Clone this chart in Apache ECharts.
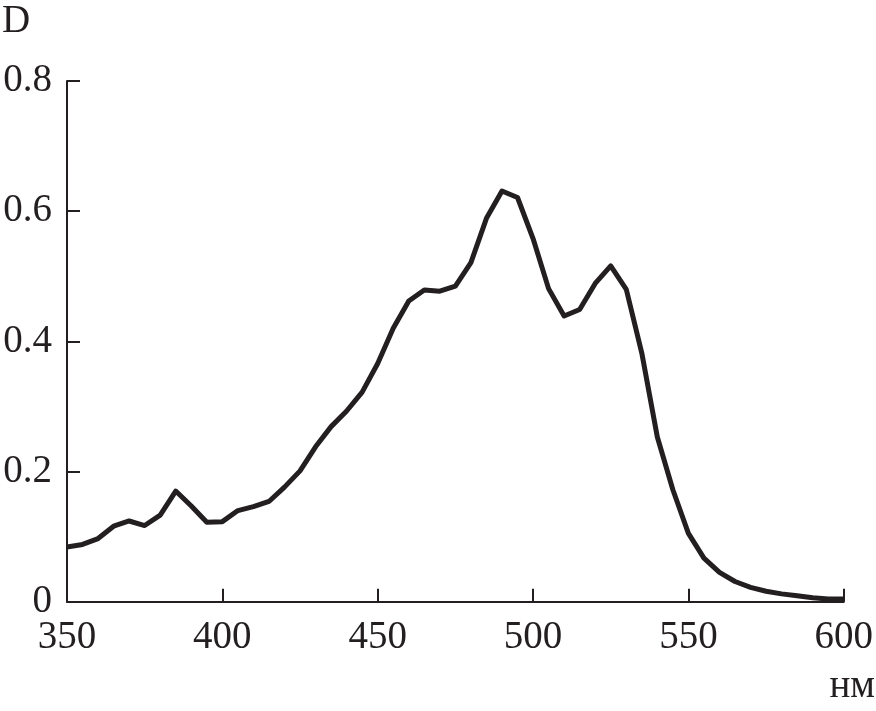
<!DOCTYPE html>
<html>
<head>
<meta charset="utf-8">
<script src="https://cdn.jsdelivr.net/npm/echarts@6/dist/echarts.min.js"></script>
<style>
html,body{margin:0;padding:0;background:#fff;}
#chart{width:876px;height:711px;}
</style>
</head>
<body>
<div id="chart"></div>
<script>
var wavelengths = [350,355,360,365,370,375,380,385,390,395,400,405,410,415,420,425,430,435,440,445,450,455,460,465,470,475,480,485,490,495,500,505,510,515,520,525,530,535,540,545,550,555,560,565,570,575,580,585,590,595,600];
var absorbance = [0.084,0.088,0.097,0.116,0.124,0.117,0.133,0.170,0.147,0.122,0.123,0.140,0.146,0.154,0.176,0.201,0.238,0.269,0.293,0.322,0.366,0.420,0.462,0.479,0.477,0.485,0.521,0.589,0.631,0.621,0.558,0.481,0.439,0.449,0.489,0.516,0.480,0.382,0.253,0.172,0.105,0.067,0.045,0.031,0.022,0.016,0.012,0.009,0.006,0.004,0.004];
var xTicks = [350,400,450,500,550,600];
var yTicks = [0,0.2,0.4,0.6,0.8];
var yAxisLabel = 'D';
var xAxisLabel = 'нм';

var ink = '#231f20';
var font = 'Liberation Serif';
var chart = echarts.init(document.getElementById('chart'));
chart.setOption({
  animation: false,
  backgroundColor: '#fff',
  grid: {left: 67, right: 31.5, top: 81, bottom: 109.3, containLabel: false},
  xAxis: {
    type: 'value', min: xTicks[0], max: xTicks[xTicks.length-1], interval: 50,
    axisLine: {show: true, lineStyle: {color: ink, width: 2}},
    axisTick: {show: true, inside: true, length: 13, lineStyle: {color: ink, width: 2}},
    axisLabel: {color: ink, fontFamily: font, fontSize: 39, margin: 17},
    splitLine: {show: false}
  },
  yAxis: {
    type: 'value', min: yTicks[0], max: yTicks[yTicks.length-1], interval: 0.2,
    axisLine: {show: true, lineStyle: {color: ink, width: 2}},
    axisTick: {show: true, inside: true, length: 13, lineStyle: {color: ink, width: 2}},
    axisLabel: {color: ink, fontFamily: font, fontSize: 39, margin: 15,
      formatter: function(v){ return v === 0 ? '0' : v.toFixed(1); }},
    splitLine: {show: false}
  },
  graphic: [
    {type: 'text', left: 2, top: 2, style: {text: yAxisLabel, fill: ink, font: '39px "Liberation Serif"'}},
    {type: 'text', right: 1, top: 667, style: {text: xAxisLabel, fill: ink, font: '39px "Liberation Serif"'}}
  ],
  series: [{
    type: 'line',
    data: wavelengths.map(function(w, i){ return [w, absorbance[i]]; }),
    showSymbol: false,
    lineStyle: {color: ink, width: 5, join: 'round'},
    clip: false
  }]
});
</script>
</body>
</html>
